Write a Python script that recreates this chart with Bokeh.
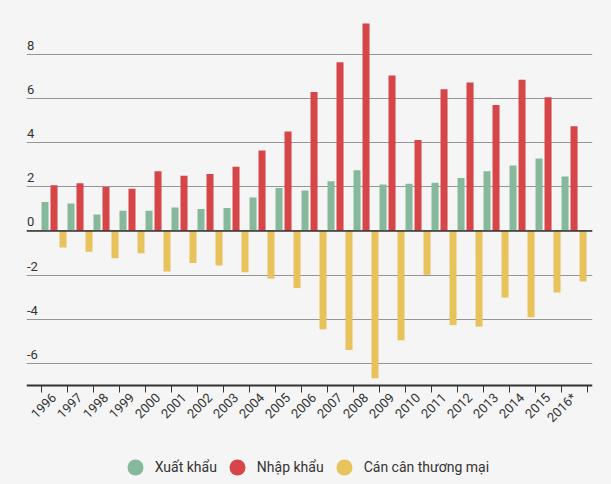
import math
from bokeh.plotting import figure
from bokeh.models import (ColumnDataSource, FixedTicker, Span, Legend, LegendItem,
                          LabelSet)
from bokeh.transform import dodge
from bokeh.core.properties import value
from bokeh.embed import file_html
from bokeh.resources import INLINE

years = ["1996", "1997", "1998", "1999", "2000", "2001", "2002", "2003", "2004",
         "2005", "2006", "2007", "2008", "2009", "2010", "2011", "2012", "2013",
         "2014", "2015", "2016*"]
exports = [1.31, 1.25, 0.75, 0.92, 0.92, 1.07, 1.00, 1.04, 1.52, 1.95, 1.84,
           2.26, 2.75, 2.11, 2.14, 2.19, 2.40, 2.71, 2.97, 3.29, 2.47]
imports = [2.07, 2.16, 1.99, 1.91, 2.71, 2.50, 2.58, 2.91, 3.65, 4.51, 6.30,
           7.65, 9.41, 7.05, 4.13, 6.43, 6.73, 5.71, 6.86, 6.06, 4.75]
balance = [-0.75, -0.94, -1.24, -1.01, -1.84, -1.45, -1.57, -1.87, -2.16, -2.59, -4.46,
           -5.40, -6.68, -4.96, -1.99, -4.27, -4.34, -3.02, -3.91, -2.79, -2.29]
y_ticks = [-6, -4, -2, 0, 2, 4, 6, 8]
series_labels = ["Xuất khẩu", "Nhập khẩu", "Cán cân thương mại"]
colors = ["#86b99b", "#d64548", "#e8c25a"]

BG = "#f5f5f5"
TXT = "#333333"
idx = list(range(len(years)))
src = ColumnDataSource(dict(x=idx, exports=exports, imports=imports, balance=balance))

x_start, x_end = -1.058, 20.71
y_floor = -7
p = figure(width=611, height=484, x_range=(x_start, x_end), y_range=(-11.5, 10),
           output_backend="svg", toolbar_location=None, title=None,
           min_border_left=26, min_border_right=19, min_border_top=10, min_border_bottom=0,
           background_fill_color=BG, border_fill_color=BG, outline_line_color=None)

offs = [-0.346, 0.0, 0.346]
series_cols = ["exports", "imports", "balance"]
for col, off, c in zip(series_cols, offs, colors):
    p.vbar(x=dodge("x", off, range=p.x_range), top=col, bottom=0, width=0.27,
           source=src, fill_color=c, line_color=None)

# grid
p.xgrid.visible = False
p.ygrid.ticker = FixedTicker(ticks=y_ticks)
p.ygrid.grid_line_color = "#959595"
p.ygrid.grid_line_width = 1
p.add_layout(Span(location=0, dimension="width", line_color=TXT, line_width=1.5))

# axes
p.yaxis.visible = False
xa = p.xaxis[0]
xa.fixed_location = y_floor
xa.ticker = FixedTicker(ticks=idx, minor_ticks=[i - 0.5 for i in range(len(years) + 1)])
xa.major_label_overrides = {i: y for i, y in enumerate(years)}
xa.major_label_orientation = math.pi / 4
xa.major_tick_line_color = None
xa.major_tick_in = 0
xa.major_tick_out = 7
xa.minor_tick_in = 0
xa.minor_tick_out = 7
xa.minor_tick_line_color = TXT
xa.axis_line_color = TXT
xa.axis_line_width = 2
xa.major_label_standoff = 3
xa.major_label_text_font = "Roboto"
xa.major_label_text_font_size = "13px"
xa.major_label_text_color = TXT

# y tick labels sitting above gridlines
ylab_src = ColumnDataSource(dict(x=[x_start] * len(y_ticks), y=y_ticks,
                                 text=[str(t) for t in y_ticks]))
p.add_layout(LabelSet(x="x", y="y", text="text", source=ylab_src, y_offset=4.5,
                      x_offset=0.5, text_font=value("Roboto"),
                      text_font_size=value("13px"), text_color=value(TXT),
                      text_align="left", text_baseline="alphabetic"))

# legend (marker renderers with zero size: only their legend glyph is seen)
items = []
for lab, col, c in zip(series_labels, series_cols, colors):
    r = p.scatter(x="x", y=col, source=src, marker="circle", size=0,
                  fill_color=c, line_color=None)
    items.append(LegendItem(label=lab, renderers=[r]))
legend = Legend(items=items, orientation="horizontal", location=(88.7, -2.7),
                glyph_width=40, glyph_height=40, label_standoff=-2, spacing=-2,
                padding=0, margin=0, background_fill_alpha=0, border_line_color=None,
                label_text_font="Roboto", label_text_font_size="14px",
                label_text_color=TXT)
p.add_layout(legend, "center")

html = file_html(p, INLINE)
html = html.replace("</head>", "<style>html,body{background:#f5f5f5;overflow:hidden;}</style></head>", 1)
open("out.html", "w").write(html)
